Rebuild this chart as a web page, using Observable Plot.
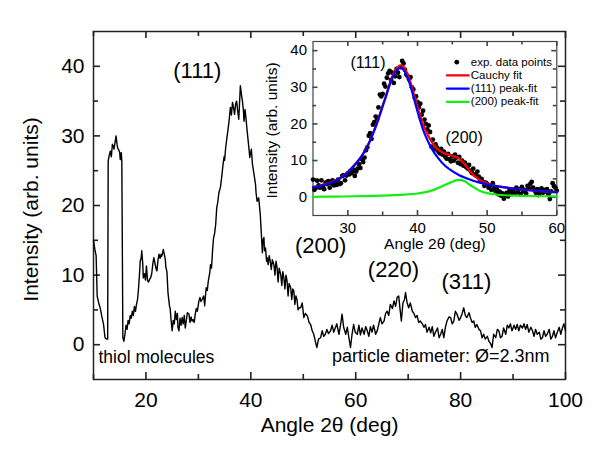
<!DOCTYPE html>
<html><head><meta charset="utf-8">
<script src="https://cdn.jsdelivr.net/npm/d3@7"></script>
<script src="https://cdn.jsdelivr.net/npm/@observablehq/plot@0.6"></script>
<style>
body{margin:0;background:#fff;}
#chart{position:relative;width:600px;height:459px;overflow:hidden;background:#fff;}
#chart svg{position:absolute;}
</style></head><body><div id="chart"></div>
<script>
// ---------- DATA ----------
// main XRD scan: [angle 2θ (deg), intensity (arb. units)]
const mainScan = [
[10.0,15.0],[10.3,13.5],[10.5,12.8],[10.7,7.0],[11.0,6.0],[11.3,5.2],[11.6,4.0],[11.9,3.0],[12.2,1.0],[12.5,0.8],[12.7,0.8],
[12.8,26.4],[13.0,27.2],[13.2,27.8],[13.4,27.0],[13.6,28.8],[13.8,28.5],[13.9,28.1],[14.1,29.0],[14.3,30.0],[14.5,28.7],[14.6,28.3],
[14.8,28.0],[15.0,27.6],[15.1,26.6],[15.3,27.6],[15.4,26.4],[15.6,1.0],[15.8,0.5],[16.0,1.5],[16.2,2.8],[16.4,2.2],[16.6,3.5],
[16.8,3.0],[17.0,4.2],[17.2,3.8],[17.4,4.8],[17.6,4.2],[17.8,5.5],[18.0,4.8],[18.2,5.8],[18.4,6.5],[18.6,8.2],[18.8,10.5],
[18.9,12.0],[19.1,12.5],[19.2,13.5],[19.4,11.5],[19.5,9.6],[19.7,10.2],[19.9,9.3],[20.1,11.3],[20.3,9.2],[20.5,9.0],[20.7,9.4],
[20.9,9.6],[21.1,10.2],[21.3,11.5],[21.5,12.5],[21.7,11.8],[21.9,11.0],[22.1,10.6],[22.3,12.2],[22.5,13.0],[22.7,12.4],[22.9,13.0],
[23.0,12.7],[23.2,13.2],[23.3,13.7],[23.5,13.0],[23.7,12.2],[23.8,11.1],[24.0,10.5],[24.2,7.5],[24.3,6.8],[24.5,5.5],[24.6,5.3],
[24.8,3.5],[25.0,2.0],[25.2,3.5],[25.4,3.0],[25.6,4.8],[25.8,3.6],[26.0,4.5],[26.1,2.5],[26.3,2.0],[26.5,3.8],[26.7,2.8],[26.9,3.9],
[27.1,3.0],[27.3,4.2],[27.5,2.4],[27.7,3.5],[27.9,4.6],[28.2,4.4],[28.4,3.2],[28.6,4.0],[28.8,3.4],[29.0,3.6],[29.2,3.2],[29.4,4.4],
[29.6,5.2],[29.8,4.8],[30.1,6.3],[30.3,6.8],[30.5,6.2],[30.7,6.5],[30.9,6.8],[31.0,7.0],[31.2,5.6],[31.4,7.5],[31.5,8.2],[31.7,7.8],
[31.9,9.2],[32.0,9.6],[32.2,10.5],[32.3,11.5],[32.5,11.0],[32.7,13.5],[32.9,15.4],[33.1,16.0],[33.3,17.3],[33.5,19.7],[33.7,20.5],
[33.9,21.8],[34.2,22.6],[34.4,23.8],[34.7,25.9],[34.9,27.0],[35.0,26.5],[35.2,28.3],[35.4,29.5],[35.7,31.2],[35.9,32.5],[36.1,34.1],
[36.3,33.0],[36.5,34.8],[36.6,34.5],[36.8,33.6],[36.9,33.1],[37.1,34.6],[37.3,35.0],[37.5,33.5],[37.7,32.4],[37.9,35.5],[38.0,37.2],
[38.2,36.0],[38.4,35.0],[38.6,33.5],[38.7,32.1],[38.9,33.8],[39.0,33.1],[39.2,31.5],[39.3,30.7],[39.6,28.5],[39.8,26.9],[40.1,28.1],
[40.3,26.0],[40.5,25.0],[40.7,24.0],[40.9,23.0],[41.0,21.8],[41.2,20.6],[41.5,21.1],[41.8,18.7],[42.0,16.0],[42.2,13.2],[42.3,15.0],
[42.5,15.4],[42.6,13.5],[42.8,13.9],[43.0,12.0],[43.1,12.5],[43.3,11.5],[43.5,12.8],[43.7,12.0],[43.9,10.8],[44.1,12.2],[44.4,11.5],
[44.6,10.0],[44.8,12.0],[45.0,11.1],[45.2,9.0],[45.4,11.0],[45.7,10.1],[45.9,8.5],[46.1,10.5],[46.3,9.6],[46.5,8.0],[46.7,10.0],
[46.9,9.2],[47.1,7.0],[47.3,8.8],[47.6,8.2],[47.8,6.5],[48.0,8.0],[48.2,7.7],[48.4,5.8],[48.6,7.0],[48.8,6.5],[49.0,5.0],[49.2,5.3],
[49.5,5.3],[49.8,6.0],[50.1,3.9],[50.4,4.5],[50.8,4.1],[51.1,3.2],[51.4,2.9],[51.7,2.0],[52.0,1.5],[52.3,0.5],[52.6,-0.4],[52.9,0.8],
[53.3,1.0],[53.6,2.0],[53.9,1.2],[54.2,1.5],[54.5,2.2],[54.8,1.6],[55.2,2.0],[55.5,2.8],[55.8,1.8],[56.1,2.4],[56.4,3.0],[56.8,1.5],
[57.1,2.8],[57.4,4.4],[57.7,2.5],[58.1,1.5],[58.4,2.5],[58.7,1.0],[59.0,-0.4],[59.3,1.5],[59.6,2.9],[59.9,1.8],[60.3,1.5],[60.6,2.8],
[60.9,1.4],[61.2,2.4],[61.6,1.5],[61.9,2.6],[62.2,2.0],[62.5,1.2],[62.8,2.6],[63.1,1.8],[63.4,2.8],[63.8,1.5],[64.1,2.0],[64.4,3.0],
[64.7,3.9],[65.0,3.0],[65.4,3.4],[65.7,4.5],[66.0,4.8],[66.3,4.2],[66.6,5.8],[67.0,5.2],[67.3,6.3],[67.6,5.5],[67.9,6.8],[68.2,7.0],
[68.4,5.5],[68.7,3.4],[69.0,6.0],[69.3,6.5],[69.5,7.5],[69.8,6.0],[70.1,5.3],[70.4,6.0],[70.8,4.8],[71.1,4.5],[71.4,3.9],[71.7,4.2],
[72.0,3.2],[72.3,3.4],[72.7,3.0],[73.0,2.5],[73.3,2.9],[73.6,1.8],[74.0,2.5],[74.3,1.7],[74.6,2.6],[74.9,1.2],[75.2,1.8],[75.6,2.4],
[75.9,1.0],[76.2,1.5],[76.5,2.2],[76.8,1.0],[77.1,2.5],[77.4,3.4],[77.8,4.0],[78.1,3.9],[78.4,3.0],[78.7,3.4],[79.0,4.8],[79.3,4.4],
[79.7,3.5],[80.0,3.9],[80.3,4.5],[80.6,5.3],[80.9,4.2],[81.2,3.9],[81.6,4.6],[81.9,3.8],[82.2,3.2],[82.5,3.4],[82.8,2.5],[83.1,2.9],
[83.5,2.2],[83.8,2.0],[84.1,1.0],[84.4,1.5],[84.7,0.8],[85.1,1.2],[85.4,0.5],[85.7,0.2],[86.0,-0.4],[86.3,1.5],[86.7,1.0],[87.0,2.2],
[87.3,2.0],[87.6,1.0],[87.9,1.2],[88.2,2.4],[88.6,1.5],[88.9,2.8],[89.2,2.4],[89.5,3.0],[89.8,2.0],[90.2,2.8],[90.5,2.2],[90.8,2.9],
[91.1,2.0],[91.4,2.8],[91.8,2.4],[92.1,3.0],[92.4,2.2],[92.7,2.9],[93.0,1.8],[93.4,2.5],[93.7,2.0],[94.0,1.2],[94.3,2.2],[94.6,1.5],
[95.0,1.8],[95.3,0.8],[95.6,1.0],[95.9,2.0],[96.2,1.2],[96.5,1.5],[96.9,2.2],[97.2,0.8],[97.5,1.2],[97.8,2.0],[98.1,1.0],[98.4,1.7],
[98.8,2.5],[99.1,1.5],[99.4,2.4],[99.7,3.0],[100.0,2.0]
];
const mainXTicks = [20, 40, 60, 80, 100];
const mainXMinor = [10, 30, 50, 70, 90];
const mainYTicks = [0, 10, 20, 30, 40];
const mainYMinor = [5, 15, 25, 35];
const peakLabels = ["(111)", "(200)", "(220)", "(311)"];
const peakAngles = [29.8, 53.3, 67.2, 81.1];
const peakHeights = [39.3, 14.2, 10.7, 9.0];

// inset: experimental points [angle, intensity]
const insetPoints = [
[25.0,4.8],[25.2,2.0],[25.4,2.5],[25.6,4.5],[25.8,3.2],[26.0,2.6],[26.2,4.6],[26.4,3.0],[26.6,2.2],[26.8,4.0],[27.0,3.6],[27.2,4.4],
[27.4,2.6],[27.6,3.8],[27.8,4.6],[28.0,3.2],[28.2,4.0],[28.4,3.4],[28.6,4.8],[28.8,3.6],[29.0,3.8],[29.2,5.8],[29.4,6.0],[29.6,4.6],
[29.8,5.9],[30.0,6.5],[30.2,6.2],[30.4,7.2],[30.6,6.6],[30.8,7.5],[31.0,5.8],[31.2,7.0],[31.4,7.8],[31.6,9.0],[31.8,8.0],[32.0,10.4],
[32.2,9.6],[32.4,10.8],[32.6,12.8],[32.8,13.6],[33.0,16.8],[33.2,17.5],[33.4,15.9],[33.6,19.8],[33.8,20.5],[34.0,22.0],[34.2,21.2],
[34.4,24.5],[34.6,28.0],[34.8,27.5],[35.0,28.2],[35.2,31.0],[35.4,30.2],[35.6,32.6],[35.8,33.8],[36.0,34.5],[36.2,32.0],[36.4,34.0],
[36.6,31.2],[36.8,33.0],[37.0,35.0],[37.2,34.0],[37.4,32.8],[37.6,35.5],[37.8,37.2],[38.0,36.5],[38.2,34.8],[38.4,33.5],[38.6,33.0],
[38.8,32.2],[39.0,32.8],[39.2,30.0],[39.4,29.4],[39.6,27.2],[39.8,27.5],[40.0,26.0],[40.2,24.5],[40.4,25.5],[40.6,22.5],[40.8,23.6],
[41.0,21.2],[41.2,20.0],[41.4,18.5],[41.6,19.6],[41.8,17.8],[42.0,13.8],[42.2,15.7],[42.4,13.0],[42.6,14.4],[42.8,13.5],[43.0,12.5],
[43.2,12.0],[43.4,13.2],[43.6,11.6],[43.8,12.4],[44.0,11.0],[44.2,10.5],[44.4,11.8],[44.6,10.4],[44.8,9.8],[45.0,11.2],[45.2,10.0],
[45.4,11.6],[45.6,10.8],[45.8,9.4],[46.0,11.0],[46.2,9.0],[46.4,10.0],[46.6,8.6],[46.8,9.4],[47.0,8.2],[47.2,7.8],[47.4,8.8],[47.6,7.2],
[47.8,6.6],[48.0,7.8],[48.2,6.2],[48.4,5.9],[48.6,7.0],[48.8,5.6],[49.0,4.5],[49.2,5.0],[49.4,4.2],[49.6,3.1],[49.8,4.0],[50.0,3.6],
[50.2,2.6],[50.4,3.2],[50.6,2.0],[50.8,3.8],[51.0,2.5],[51.2,1.6],[51.4,2.2],[51.6,0.8],[51.8,1.5],[52.0,0.4],[52.2,1.0],[52.4,-0.4],
[52.6,0.6],[52.8,1.2],[53.0,0.2],[53.2,1.8],[53.4,0.8],[53.6,1.4],[53.8,2.0],[54.0,1.0],[54.2,2.6],[54.4,1.4],[54.6,2.2],[54.8,0.8],
[55.0,2.8],[55.2,1.6],[55.4,2.0],[55.6,1.0],[55.8,3.1],[56.0,2.4],[56.2,3.6],[56.4,4.2],[56.6,2.6],[56.8,1.8],[57.0,1.2],[57.2,2.2],
[57.4,0.6],[57.6,1.6],[57.8,2.4],[58.0,1.2],[58.2,2.0],[58.4,1.5],[58.6,2.2],[58.8,0.8],[59.0,-0.5],[59.2,1.6],[59.4,3.8],[59.6,3.0],
[59.8,2.6],[60.0,1.8]
];
// inset fitted curves [angle, intensity]
const cauchyFit = [
[25,2.8],[26,3.2],[27,3.7],[28,4.4],[29,5.4],[30,6.9],[31,8.9],[32,11.3],[33,14.7],[34,19.4],[35,25.0],[35.5,27.9],[36,31.0],
[36.5,33.5],[37,35.2],[37.5,36.0],[38,35.6],[38.5,33.9],[39,31.3],[39.5,28.0],[40,24.6],[40.5,21.6],[41,19.0],[41.5,16.9],[42,15.2],
[42.5,13.9],[43,12.9],[43.5,12.3],[44,11.9],[44.5,11.6],[45,11.3],[45.5,11.0],[46,10.5],[46.5,9.6],[47,8.4],[47.5,7.2],[48,6.1],
[48.5,5.3],[49,4.6],[50,3.8],[51,3.2],[52,2.8],[54,2.3],[56,1.9],[58,1.6],[60,1.4]
];
const peak111Fit = [
[25,2.7],[26,3.1],[27,3.6],[28,4.3],[29,5.3],[30,6.8],[31,8.8],[32,11.2],[33,14.6],[34,19.2],[35,24.8],[35.5,27.6],[36,30.6],
[36.5,33.0],[37,34.7],[37.5,35.3],[38,34.8],[38.5,33.0],[39,30.3],[39.5,26.9],[40,23.4],[40.5,20.2],[41,17.4],[42,13.4],[43,10.6],
[44,8.5],[45,7.1],[46,6.0],[47,5.2],[48,4.5],[50,3.5],[52,2.8],[54,2.3],[56,1.9],[58,1.6],[60,1.3]
];
const peak200Fit = [
[25,0.1],[28,0.15],[31,0.25],[34,0.35],[36,0.5],[38,0.7],[40,1.0],[41,1.3],[42,1.8],[43,2.5],[44,3.4],[45,4.2],[45.5,4.6],[46,4.75],
[46.5,4.6],[47,4.1],[47.5,3.4],[48,2.8],[48.5,2.2],[49,1.7],[50,1.1],[51,0.8],[52,0.6],[54,0.4],[57,0.3],[60,0.2]
];
const insetXTicks = [30, 40, 50, 60];
const insetXMinor = [35, 45, 55];
const insetYTicks = [0, 10, 20, 30, 40];
const insetYMinor = [5, 15, 25, 35];
const insetPeakLabels = ["(111)", "(200)"];
const insetPeakAngles = [32.9, 46.7];
const insetPeakHeights = [36.7, 16.3];
const legendLabels = ["exp. data points", "Cauchy fit", "(111) peak-fit", "(200) peak-fit"];
const legendColors = ["black", "#ff0000", "#0000ff", "#11ee11"];

// ---------- DRAW ----------
const FONT = "'Liberation Sans', Arial, Helvetica, sans-serif";
const chart = document.getElementById("chart");

// inward-pointing box ticks: rules spanning the frame, trimmed to a short length by insets
function boxTicks(frameW, frameH, major, minor, majSize, minSize, stroke) {
  const out = [];
  for (const [xs, s] of [[major.x, majSize], [minor.x, minSize]]) {
    out.push(Plot.ruleX(xs, {x: d => d, insetTop: frameH - s, stroke, strokeWidth: 1.6}));
    out.push(Plot.ruleX(xs, {x: d => d, insetBottom: frameH - s, stroke, strokeWidth: 1.6}));
  }
  for (const [ys, s] of [[major.y, majSize], [minor.y, minSize]]) {
    out.push(Plot.ruleY(ys, {y: d => d, insetRight: frameW - s, stroke, strokeWidth: 1.6}));
    out.push(Plot.ruleY(ys, {y: d => d, insetLeft: frameW - s, stroke, strokeWidth: 1.6}));
  }
  return out;
}

const M = {w: 600, h: 459, l: 93, r: 35, t: 31, b: 80};
const main = Plot.plot({
  width: M.w, height: M.h,
  marginLeft: M.l, marginRight: M.r, marginTop: M.t, marginBottom: M.b,
  style: {fontFamily: FONT, background: "transparent", color: "black"},
  x: {domain: [10, 100]},
  y: {domain: [-5, 45]},
  marks: [
    Plot.axisX(mainXTicks, {anchor: "bottom", tickSize: 0, tickPadding: 13, fontSize: 21, label: null}),
    Plot.axisY(mainYTicks, {anchor: "left", tickSize: 0, tickPadding: 9, fontSize: 21, label: null}),
    ...boxTicks(M.w - M.l - M.r, M.h - M.t - M.b, {x: mainXTicks, y: mainYTicks}, {x: mainXMinor, y: mainYMinor}, 7, 5, "#222"),
    Plot.frame({stroke: "#222", strokeWidth: 1.5}),
    Plot.line(mainScan, {x: d => d[0], y: d => d[1], stroke: "black", strokeWidth: 1.4}),
    Plot.text(peakLabels, {x: (d, i) => peakAngles[i], y: (d, i) => peakHeights[i], text: d => d, fontSize: 22}),
    Plot.text(["thiol molecules"], {frameAnchor: "bottom-left", dx: 5, dy: -22, textAnchor: "start", lineAnchor: "middle", fontSize: 17.5}),
    Plot.text(["particle diameter: Ø=2.3nm"], {frameAnchor: "bottom-right", dx: -16, dy: -23, textAnchor: "end", lineAnchor: "middle", fontSize: 18}),
    Plot.text(["Angle 2θ (deg)"], {frameAnchor: "bottom", dy: 46, lineAnchor: "middle", textAnchor: "middle", fontSize: 21}),
    Plot.text(["Intensity (arb. units)"], {frameAnchor: "left", dx: -62, dy: 4, rotate: -90, textAnchor: "middle", lineAnchor: "middle", fontSize: 21})
  ]
});
main.style.left = "0px"; main.style.top = "0px";
chart.appendChild(main);

const lineShape = {draw(context, l) { context.moveTo(0, 0); context.lineTo(0, -l); }};
const legendMarks = legendLabels.flatMap((label, i) => {
  const dy = 20.7 + 13.2 * i;
  const marks = [Plot.text([label], {frameAnchor: "top-right", dx: -86, dy, textAnchor: "start", lineAnchor: "middle", fontSize: 11.5})];
  if (i === 0) marks.push(Plot.dot([label], {frameAnchor: "top-right", dx: -100, dy, r: 2.4, fill: legendColors[i], stroke: "none"}));
  else marks.push(Plot.vector([label], {frameAnchor: "top-right", dx: -110, dy, length: 22, rotate: 90, anchor: "start", stroke: legendColors[i], strokeWidth: 2.2, shape: lineShape}));
  return marks;
});

const I = {w: 320, h: 225, l: 62.5, r: 13.7, t: 11, b: 40};
const inset = Plot.plot({
  width: I.w, height: I.h,
  marginLeft: I.l, marginRight: I.r, marginTop: I.t, marginBottom: I.b,
  style: {fontFamily: FONT, background: "transparent", color: "black"},
  x: {domain: [25, 60]},
  y: {domain: [-5, 42.5]},
  marks: [
    Plot.frame({fill: "white", stroke: "none"}),
    Plot.axisX(insetXTicks, {anchor: "bottom", tickSize: 0, tickPadding: 6.5, fontSize: 15, label: null}),
    Plot.axisY(insetYTicks, {anchor: "left", tickSize: 0, tickPadding: 6, fontSize: 15, label: null}),
    ...boxTicks(I.w - I.l - I.r, I.h - I.t - I.b, {x: insetXTicks, y: insetYTicks}, {x: insetXMinor, y: insetYMinor}, 5, 3.5, "#444"),
    Plot.frame({stroke: "#444", strokeWidth: 1.2}),
    Plot.dot(insetPoints, {x: d => d[0], y: d => d[1], r: 2.4, fill: "black", stroke: "none"}),
    Plot.line(peak200Fit, {x: d => d[0], y: d => d[1], stroke: legendColors[3], strokeWidth: 2.2, curve: "catmull-rom"}),
    Plot.line(cauchyFit, {x: d => d[0], y: d => d[1], stroke: legendColors[1], strokeWidth: 2.2, curve: "catmull-rom"}),
    Plot.line(peak111Fit, {x: d => d[0], y: d => d[1], stroke: legendColors[2], strokeWidth: 2.2, curve: "catmull-rom"}),
    Plot.text(insetPeakLabels, {x: (d, i) => insetPeakAngles[i], y: (d, i) => insetPeakHeights[i], text: d => d, fontSize: 16}),
    ...legendMarks,
    Plot.text(["Angle 2θ (deg)"], {frameAnchor: "bottom", dy: 28.5, lineAnchor: "middle", textAnchor: "middle", fontSize: 15.5}),
    Plot.text(["Intensity (arb. units)"], {frameAnchor: "left", dx: -41, dy: 2, rotate: -90, textAnchor: "middle", lineAnchor: "middle", fontSize: 15.5})
  ]
});
inset.style.left = "250px"; inset.style.top = "30px";
chart.appendChild(inset);
</script></body></html>
